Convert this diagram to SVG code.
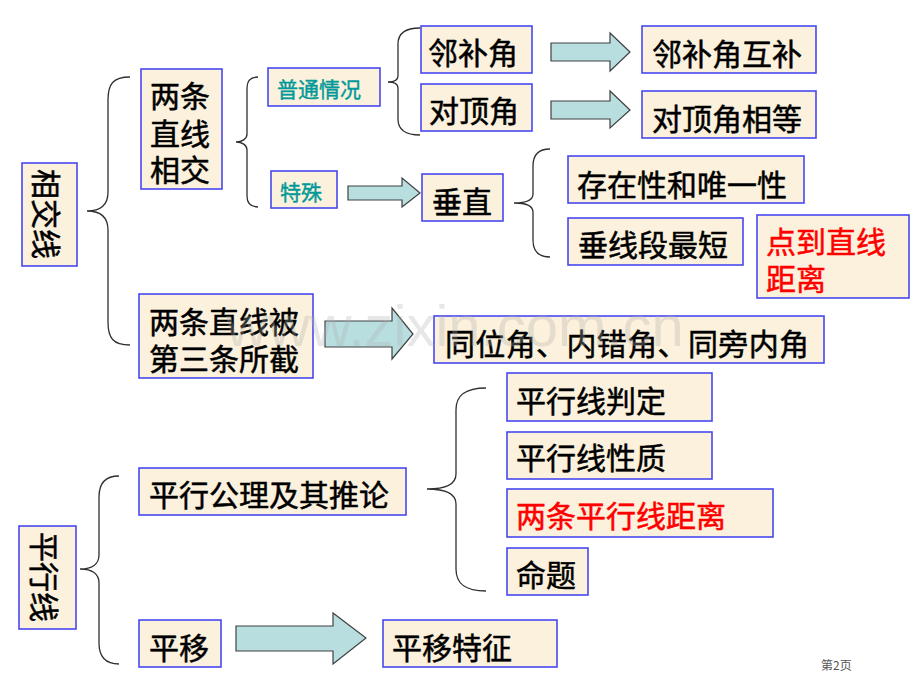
<svg xmlns="http://www.w3.org/2000/svg" width="920" height="690" viewBox="0 0 920 690">
<style>
.box{fill:#FBF1DC;stroke:#4848F0;stroke-width:1.6}
.t{font-family:"Noto Sans CJK SC","Noto Sans CJK TC",sans-serif;font-size:30px;fill:#000;stroke:#000;stroke-width:0.5;dominant-baseline:central}
.s{font-size:21px;fill:#009999;stroke:#009999;stroke-width:0.4}
.r{fill:#FF0000;stroke:#FF0000}
.arr{fill:#B8DEE0;stroke:#404040;stroke-width:1.2}
.br{fill:none;stroke:#303030;stroke-width:1.3}
</style>
<rect width="920" height="690" fill="#FFFFFF"/>
<g id="connectors">
<path class="br" d="M130,77 C113,77 108,84 108,100 L108,192 C108,205 100,211 87,211 C100,211 108,217 108,230 L108,322 C108,338 113,345 130,345"/>
<path class="br" d="M258,77 C250,77 247,81 247,88 L247,134 C247,139 242,142 236,142 C242,142 247,145 247,150 L247,196 C247,203 250,207 258,207"/>
<path class="br" d="M420,28 C404,28 398,34 398,44 L398,76 C398,80 394,82 388,82 C394,82 398,84 398,88 L398,119 C398,129 404,135 420,135"/>
<path class="br" d="M550,149 C538,149 533,155 533,166 L533,194 C533,200 526,203 514,203 C526,203 533,206 533,212 L533,240 C533,251 538,257 550,257"/>
<path class="br" d="M119,476 C105,476 99,484 99,497 L99,555 C99,564 92,569 80,569 C92,569 99,574 99,583 L99,643 C99,656 105,664 119,664"/>
<path class="br" d="M486,388 C464,388 456,396 456,410 L456,474 C456,484 446,489 427,489 C446,489 456,494 456,504 L456,569 C456,583 464,591 486,591"/>
<polygon class="arr" points="551,43 610,43 610,33 630,52 610,71 610,61 551,61"/>
<polygon class="arr" points="551,101 610,101 610,91 630,110 610,128 610,119 551,119"/>
<polygon class="arr" points="348,186 402,186 402,178 420,193 402,207 402,200 348,200"/>
<polygon class="arr" points="325,321 392,321 392,308 413,334 392,359 392,347 325,347"/>
<polygon class="arr" points="236,626 333,626 333,613 366,638 333,664 333,651 236,651"/>
</g>
<g id="xiangjiaoxian"><rect class="box" x="22" y="163" width="55" height="103"/><text class="t" transform="translate(48,214) rotate(90)" text-anchor="middle" x="0" y="0">相交线</text></g>
<g id="liangtiaozhixianxiangjiao"><rect class="box" x="141" y="69" width="81" height="120"/><text class="t" x="150" y="94">两条</text><text class="t" x="150" y="132">直线</text><text class="t" x="150" y="168">相交</text></g>
<g id="putongqingkuang"><rect class="box" x="268" y="68" width="112" height="38"/><text class="t s" x="277" y="88">普通情况</text></g>
<g id="teshu"><rect class="box" x="271" y="171" width="66" height="37"/><text class="t s" x="280" y="191">特殊</text></g>
<g id="linbujiao"><rect class="box" x="421" y="26" width="111" height="47"/><text class="t" x="428" y="51">邻补角</text></g>
<g id="duidingjiao"><rect class="box" x="421" y="84" width="111" height="47"/><text class="t" x="429" y="109">对顶角</text></g>
<g id="linbujiaohubu"><rect class="box" x="642" y="26" width="174" height="47"/><text class="t" x="652" y="52">邻补角互补</text></g>
<g id="duidingjiaoxiangdeng"><rect class="box" x="642" y="91" width="174" height="47"/><text class="t" x="652" y="117">对顶角相等</text></g>
<g id="chuizhi"><rect class="box" x="422" y="174" width="81" height="47"/><text class="t" x="432" y="200">垂直</text></g>
<g id="cunzaixing"><rect class="box" x="568" y="156" width="236" height="47"/><text class="t" x="577" y="183">存在性和唯一性</text></g>
<g id="chuixianduan"><rect class="box" x="568" y="218" width="175" height="47"/><text class="t" x="578" y="243">垂线段最短</text></g>
<g id="diandaozhixian"><rect class="box" x="757" y="215" width="152" height="83"/><text class="t r" x="766" y="240">点到直线</text><text class="t r" x="766" y="277">距离</text></g>
<g id="beidisantiao"><rect class="box" x="139" y="294" width="174" height="84"/><text class="t" x="149" y="320">两条直线被</text><text class="t" x="149" y="357">第三条所截</text></g>
<g id="tongweijiao"><rect class="box" x="434" y="316" width="390" height="47"/><text class="t" x="445" y="342" textLength="364" lengthAdjust="spacing">同位角、内错角、同旁内角</text></g>
<g id="pingxingxian"><rect class="box" x="19" y="526" width="57" height="103"/><text class="t" transform="translate(46,577) rotate(90)" text-anchor="middle" x="0" y="0">平行线</text></g>
<g id="pingxinggongli"><rect class="box" x="139" y="468" width="267" height="47"/><text class="t" x="149" y="493">平行公理及其推论</text></g>
<g id="pingyi"><rect class="box" x="139" y="620" width="82" height="47"/><text class="t" x="149" y="646">平移</text></g>
<g id="pingyitezheng"><rect class="box" x="383" y="620" width="174" height="47"/><text class="t" x="392" y="646">平移特征</text></g>
<g id="panding"><rect class="box" x="507" y="373" width="205" height="48"/><text class="t" x="516" y="399">平行线判定</text></g>
<g id="xingzhi"><rect class="box" x="507" y="432" width="205" height="47"/><text class="t" x="516" y="456">平行线性质</text></g>
<g id="juli"><rect class="box" x="507" y="489" width="266" height="48"/><text class="t r" x="516" y="514">两条平行线距离</text></g>
<g id="mingti"><rect class="box" x="507" y="548" width="81" height="47"/><text class="t" x="516" y="573">命题</text></g>
<text x="226" y="346" font-family="Liberation Sans, Arial, sans-serif" font-size="58" fill="#B0B0B0" fill-opacity="0.3">www.zixin.com.cn</text>
<text x="821" y="670" font-family="Noto Sans CJK SC, sans-serif" font-size="12" fill="#555555">第2页</text>
</svg>
